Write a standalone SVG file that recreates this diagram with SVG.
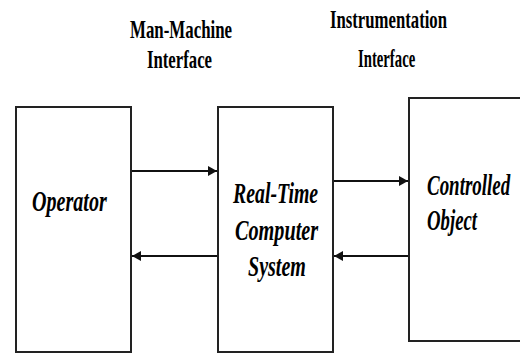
<svg xmlns="http://www.w3.org/2000/svg" width="520" height="354" viewBox="0 0 520 354">
<style>
.box{fill:#fff;stroke:#222;stroke-width:2}
.hd{font-family:"Liberation Serif",serif;font-weight:bold;font-size:26px;fill:#000}
.lb{font-family:"Liberation Serif",serif;font-weight:bold;font-style:italic;font-size:30px;fill:#000}
.ln{stroke:#111;stroke-width:2;fill:none}
</style>
<defs>
<marker id="ah" markerWidth="9" markerHeight="10" refX="9" refY="5" orient="auto" markerUnits="userSpaceOnUse">
<path d="M0,0 L9,5 L0,10 Z" fill="#111"/>
</marker>
</defs>
<rect width="520" height="354" fill="#fff"/>
<g id="label-mmi">
<text class="hd" transform="translate(130,38) scale(0.65,1)" textLength="157" lengthAdjust="spacingAndGlyphs">Man-Machine</text>
<text class="hd" transform="translate(147,68) scale(0.65,1)" textLength="100" lengthAdjust="spacingAndGlyphs">Interface</text>
</g>
<g id="label-ii">
<text class="hd" transform="translate(330,28) scale(0.65,1)" textLength="180" lengthAdjust="spacingAndGlyphs">Instrumentation</text>
<text class="hd" transform="translate(358,67) scale(0.65,1)" textLength="88" lengthAdjust="spacingAndGlyphs">Interface</text>
</g>
<g id="operator">
<rect class="box" x="16" y="107" width="115" height="245"/>
<text class="lb" transform="translate(32,211) scale(0.65,1)" textLength="115" lengthAdjust="spacingAndGlyphs">Operator</text>
</g>
<g id="rtcs">
<rect class="box" x="218" y="107" width="115" height="245"/>
<text class="lb" transform="translate(233,203) scale(0.65,1)" textLength="131" lengthAdjust="spacingAndGlyphs">Real-Time</text>
<text class="lb" transform="translate(235,240) scale(0.65,1)" textLength="128" lengthAdjust="spacingAndGlyphs">Computer</text>
<text class="lb" transform="translate(248,276) scale(0.65,1)" textLength="89" lengthAdjust="spacingAndGlyphs">System</text>
</g>
<g id="controlled-object">
<rect class="box" x="409" y="98" width="120" height="243"/>
<text class="lb" transform="translate(427,195) scale(0.65,1)" textLength="128" lengthAdjust="spacingAndGlyphs">Controlled</text>
<text class="lb" transform="translate(427,230) scale(0.65,1)" textLength="77" lengthAdjust="spacingAndGlyphs">Object</text>
</g>
<g id="connectors">
<line class="ln" x1="132" y1="171" x2="217" y2="171" marker-end="url(#ah)"/>
<line class="ln" x1="217" y1="256" x2="132" y2="256" marker-end="url(#ah)"/>
<line class="ln" x1="334" y1="181" x2="408" y2="181" stroke-width="3" marker-end="url(#ah)"/>
<line class="ln" x1="408" y1="256" x2="334" y2="256" marker-end="url(#ah)"/>
</g>
</svg>
